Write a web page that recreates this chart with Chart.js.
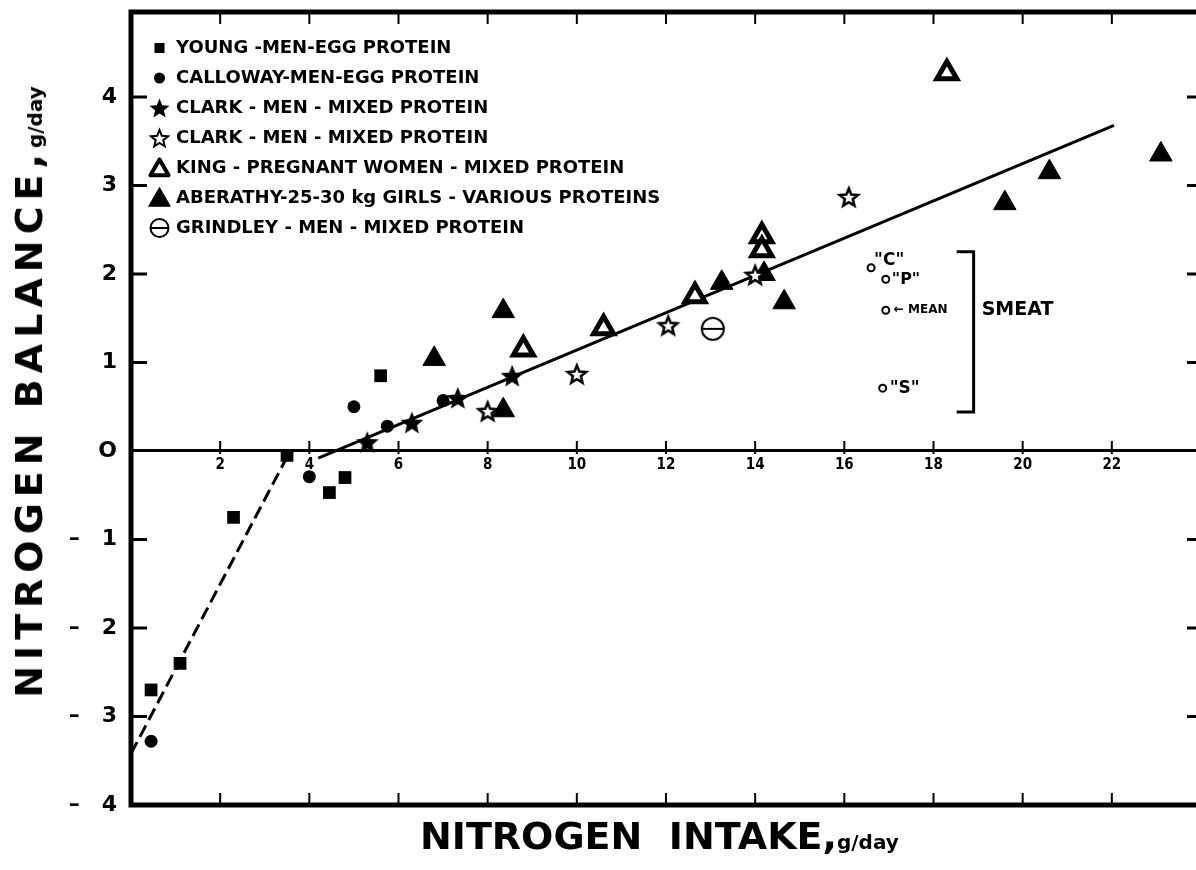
<!DOCTYPE html>
<html>
<head>
<meta charset="utf-8">
<script src="https://cdn.jsdelivr.net/npm/chart.js@4.4.1/dist/chart.umd.min.js"></script>
<style>
  html, body { margin: 0; padding: 0; background: #fff; overflow: hidden; }
  #wrap { position: relative; width: 1196px; height: 870px; overflow: hidden; }
  #chart { position: absolute; left: 0; top: 0; }
  .title { position: absolute; font-family: "DejaVu Sans", sans-serif; font-weight: bold; color: #000; white-space: nowrap; line-height: 38px; font-size: 38px; }
  .title span { font-size: 20px; letter-spacing: 0; }
  #xtitle { left: 420px; top: 817px; }
  #ytitle { left: 32px; top: 392px; letter-spacing: 6px; transform: translate(-50%, -50%) rotate(-90deg); transform-origin: center; }
</style>
</head>
<body>
<div id="wrap">
  <canvas id="chart" width="1206" height="870"></canvas>
  <div class="title" id="xtitle">NITROGEN&nbsp;&nbsp;INTAKE,<span>g/day</span></div>
  <div class="title" id="ytitle">NITROGEN BALANCE,<span>g/day</span></div>
</div>
<script>
// ---- data (x = intake g/day, y = balance g/day) ----
var youngX = [0.45, 1.1, 2.3, 3.5, 4.45, 4.8, 5.6];
var youngY = [-2.70, -2.40, -0.75, -0.05, -0.47, -0.30, 0.85];

var callowayX = [0.45, 4.0, 5.0, 5.75, 7.0];
var callowayY = [-3.28, -0.29, 0.50, 0.28, 0.57];

var clarkFilledX = [5.3, 6.3, 7.33, 8.55];
var clarkFilledY = [0.10, 0.32, 0.60, 0.85];

var clarkOpenX = [8.0, 10.0, 12.05, 14.0, 16.1];
var clarkOpenY = [0.45, 0.87, 1.42, 1.99, 2.87];

var kingX = [8.8, 10.6, 12.65, 14.15, 14.15, 18.3];
var kingY = [1.15, 1.39, 1.75, 2.43, 2.27, 4.27];

var aberathyX = [6.8, 8.35, 8.35, 13.25, 14.2, 14.65, 19.6, 20.6, 23.1];
var aberathyY = [1.04, 1.58, 0.46, 1.90, 2.00, 1.68, 2.80, 3.15, 3.35];

var grindleyX = [13.05];
var grindleyY = [1.38];

var smeatX = [16.6, 16.93, 16.93, 16.86];
var smeatY = [2.07, 1.94, 1.59, 0.71];
var smeatLabels = ['"C"', '"P"', '\u2190 MEAN', '"S"'];

// fitted lines
var solidLineX = [4.2, 22.05];
var solidLineY = [-0.08, 3.68];
var dashedLineX = [0.0, 3.55];
var dashedLineY = [-3.42, -0.02];

var legendNames = [
    "YOUNG -MEN-EGG PROTEIN",
    "CALLOWAY-MEN-EGG PROTEIN",
    "CLARK - MEN - MIXED PROTEIN",
    "CLARK - MEN - MIXED PROTEIN",
    "KING - PREGNANT WOMEN - MIXED PROTEIN",
    "ABERATHY-25-30 kg GIRLS - VARIOUS PROTEINS",
    "GRINDLEY - MEN - MIXED PROTEIN"
];

var xTickValues = [2, 4, 6, 8, 10, 12, 14, 16, 18, 20, 22];
var yTickValues = [4, 3, 2, 1, 0, -1, -2, -3, -4];
var yTickLabels = ["4", "3", "2", "1", "O", "\u2013\u20031", "\u2013\u20032", "\u2013\u20033", "\u2013\u20034"];

const FONT = '"DejaVu Sans", sans-serif';


function pairs(xs, ys) {
    return xs.map((x, i) => ({ x: x, y: ys[i] }));
}

function icon(w, h, draw) {
    var c = document.createElement("canvas");
    c.width = w;
    c.height = h;
    draw(c.getContext("2d"));
    return c;
}

function drawStar(g, cx, cy, R, filled, lw) {
    var r = R * 0.44;
    g.beginPath();
    for (var i = 0; i < 10; i++) {
        var a = -Math.PI / 2 + i * Math.PI / 5;
        var rr = i % 2 ? r : R;
        g.lineTo(cx + rr * Math.cos(a), cy + rr * Math.sin(a));
    }
    g.closePath();
    g.fillStyle = filled ? "#000" : "#fff";
    g.fill();
    if (!filled) {
        g.lineWidth = lw;
        g.strokeStyle = "#000";
        g.stroke();
    }
}

function drawTriangle(g, cx, cy, R, filled, lw) {
    g.beginPath();
    for (var i = 0; i < 3; i++) {
        var a = -Math.PI / 2 + i * 2 * Math.PI / 3;
        g.lineTo(cx + R * Math.cos(a), cy + R * Math.sin(a));
    }
    g.closePath();
    g.fillStyle = filled ? "#000" : "#fff";
    g.fill();
    g.lineJoin = "round";
    g.lineWidth = lw;
    g.strokeStyle = "#000";
    g.stroke();
}

function drawTheta(g, cx, cy, r, lw) {
    g.lineWidth = lw;
    g.strokeStyle = "#000";
    g.beginPath();
    g.arc(cx, cy, r, 0, Math.PI * 2);
    g.stroke();
    g.beginPath();
    g.moveTo(cx - r, cy);
    g.lineTo(cx + r, cy);
    g.stroke();
}

// plot symbols
var starFilled = icon(26, 26, g => drawStar(g, 13, 14, 12, true));
var starOpen = icon(26, 26, g => drawStar(g, 13, 14, 9.5, false, 2.6));
var thetaIcon = icon(28, 28, g => drawTheta(g, 14, 14, 11, 2));

// legend symbols (drawn a bit right of the icon centre)
var LW = 40, LH = 28, LX = 24.5, LY = 14;
var legendIcons = [
    icon(LW, LH, g => { g.fillStyle = "#000"; g.fillRect(LX - 5, LY - 5, 10, 10); }),
    icon(LW, LH, g => { g.fillStyle = "#000"; g.beginPath(); g.arc(LX, LY, 5.5, 0, Math.PI * 2); g.fill(); }),
    icon(LW, LH, g => drawStar(g, LX, LY + 1, 10.5, true)),
    icon(LW, LH, g => drawStar(g, LX, LY + 1, 9, false, 2)),
    icon(LW, LH, g => drawTriangle(g, LX, LY + 2, 10.5, false, 4)),
    icon(LW, LH, g => drawTriangle(g, LX, LY + 2, 12.5, true, 1)),
    icon(LW, LH, g => drawTheta(g, LX, LY, 9, 2))
];


// border ticks, zero-line ticks and the SMEAT notes
const frameAndNotes = {
    id: "frameAndNotes",
    afterDraw(chart) {
        var ctx = chart.ctx;
        var a = chart.chartArea;
        var xs = chart.scales.x;
        var ys = chart.scales.y;
        var y0 = ys.getPixelForValue(0);
        ctx.save();
        ctx.strokeStyle = "#000";
        ctx.lineCap = "butt";

        // frame
        ctx.lineWidth = 5;
        ctx.strokeRect(a.left, a.top, a.right - a.left, a.bottom - a.top);

        // y ticks, inside, both sides
        ctx.lineWidth = 3;
        yTickValues.forEach(v => {
            if (v == 0 || v == -4) return;
            var py = ys.getPixelForValue(v);
            ctx.beginPath();
            ctx.moveTo(a.left, py); ctx.lineTo(a.left + 16, py);
            ctx.moveTo(a.right, py); ctx.lineTo(a.right - 14, py);
            ctx.stroke();
        });

        // x ticks on top, bottom and across the zero line
        ctx.lineWidth = 2;
        xTickValues.forEach(v => {
            var px = xs.getPixelForValue(v);
            ctx.beginPath();
            ctx.moveTo(px, a.top); ctx.lineTo(px, a.top + 12);
            ctx.moveTo(px, a.bottom); ctx.lineTo(px, a.bottom - 12);
            ctx.moveTo(px, y0 - 10); ctx.lineTo(px, y0 + 3);
            ctx.stroke();
        });

        // SMEAT labels next to their circles
        ctx.fillStyle = "#000";
        ctx.textBaseline = "middle";
        ctx.textAlign = "left";
        var offs = [[3, -7, 17], [6, 1, 16], [8, 0, 12], [7, 0, 17]];
        smeatLabels.forEach((t, i) => {
            var px = xs.getPixelForValue(smeatX[i]);
            var py = ys.getPixelForValue(smeatY[i]);
            ctx.font = "bold " + offs[i][2] + "px " + FONT;
            ctx.fillText(t, px + offs[i][0], py + offs[i][1]);
        });

        // bracket
        var bx = xs.getPixelForValue(18.9);
        var bl = xs.getPixelForValue(18.52);
        var bt = ys.getPixelForValue(2.25);
        var bb = ys.getPixelForValue(0.44);
        ctx.lineWidth = 3;
        ctx.beginPath();
        ctx.moveTo(bl, bt); ctx.lineTo(bx, bt); ctx.lineTo(bx, bb); ctx.lineTo(bl, bb);
        ctx.stroke();
        ctx.font = "bold 19px " + FONT;
        ctx.fillText("SMEAT", bx + 8, ys.getPixelForValue(1.59));
        ctx.restore();
    }
};

function noPadding(s) {
    s.paddingTop = 0;
    s.paddingBottom = 0;
    s.paddingLeft = 0;
    s.paddingRight = 0;
}


chart = new Chart(document.getElementById("chart"), {
    type: "scatter",
    data: {
        datasets: [
            { label: legendNames[0], data: pairs(youngX, youngY), pointStyle: "rect", pointRadius: 9, backgroundColor: "#000", borderColor: "#000", borderWidth: 0 },
            { label: legendNames[1], data: pairs(callowayX, callowayY), pointStyle: "circle", pointRadius: 6.5, backgroundColor: "#000", borderColor: "#000", borderWidth: 0 },
            { label: legendNames[2], data: pairs(clarkFilledX, clarkFilledY), pointStyle: starFilled, pointRadius: 12 },
            { label: legendNames[3], data: pairs(clarkOpenX, clarkOpenY), pointStyle: starOpen, pointRadius: 12 },
            { label: legendNames[4], data: pairs(kingX, kingY), pointStyle: "triangle", pointRadius: 11.5, backgroundColor: "#fff", borderColor: "#000", borderWidth: 5 },
            { label: legendNames[5], data: pairs(aberathyX, aberathyY), pointStyle: "triangle", pointRadius: 13, backgroundColor: "#000", borderColor: "#000", borderWidth: 1 },
            { label: legendNames[6], data: pairs(grindleyX, grindleyY), pointStyle: thetaIcon, pointRadius: 12 },
            { label: "SMEAT", data: pairs(smeatX, smeatY), pointStyle: "circle", pointRadius: 3.5, backgroundColor: "#fff", borderColor: "#000", borderWidth: 2 },
            { label: "fit", type: "line", data: pairs(solidLineX, solidLineY), borderColor: "#000", borderWidth: 3, pointRadius: 0, showLine: true },
            { label: "fit low", type: "line", data: pairs(dashedLineX, dashedLineY), borderColor: "#000", borderWidth: 3, borderDash: [13, 6], pointRadius: 0, showLine: true }
        ]
    },
    options: {
        responsive: false,
        devicePixelRatio: 1,
        animation: false,
        events: [],
        layout: { autoPadding: false, padding: { left: 0, top: 12, right: 5, bottom: 65 } },
        scales: {
            x: {
                type: "linear",
                min: 0,
                max: 24,
                position: { y: 0 },
                afterFit: (s) => { s.height = 0; noPadding(s); },
                border: { display: false },
                grid: { display: false, drawTicks: false },
                ticks: {
                    stepSize: 2,
                    autoSkip: false,
                    maxRotation: 0,
                    padding: 5,
                    color: "#000",
                    font: { family: '"DejaVu Sans Condensed", ' + FONT, size: 15, weight: "bold" },
                    callback: (v) => xTickValues.includes(v) ? String(v) : ""
                }
            },
            y: {
                type: "linear",
                min: -4,
                max: 4.96,
                position: "left",
                afterFit: (s) => { s.width = 131; noPadding(s); },
                border: { display: false },
                grid: {
                    drawTicks: false,
                    color: (c) => c.tick && c.tick.value === 0 ? "#000" : "rgba(0,0,0,0)",
                    lineWidth: (c) => c.tick && c.tick.value === 0 ? 3 : 1
                },
                ticks: {
                    stepSize: 1,
                    padding: 14,
                    color: "#000",
                    font: { family: FONT, size: 22, weight: "bold" },
                    callback: (v) => {
                        var i = yTickValues.indexOf(v);
                        return i < 0 ? "" : yTickLabels[i];
                    }
                }
            }
        },
        plugins: {
            tooltip: { enabled: false },
            legend: {
                position: "chartArea",
                align: "start",
                title: { display: true, text: " ", font: { size: 10 }, padding: { top: 15, bottom: 0 } },
                labels: {
                    usePointStyle: true,
                    pointStyleWidth: 24,
                    padding: 12,
                    color: "#000",
                    font: { family: FONT, size: 18, weight: "bold" },
                    generateLabels: () => legendNames.map((name, i) => ({
                        text: name,
                        pointStyle: legendIcons[i],
                        fillStyle: "#000",
                        strokeStyle: "#000",
                        lineWidth: 0,
                        fontColor: "#000",
                        textAlign: "left",
                        hidden: false,
                        datasetIndex: i
                    }))
                }
            }
        }
    },
    plugins: [frameAndNotes]
});
</script>
</body>
</html>
